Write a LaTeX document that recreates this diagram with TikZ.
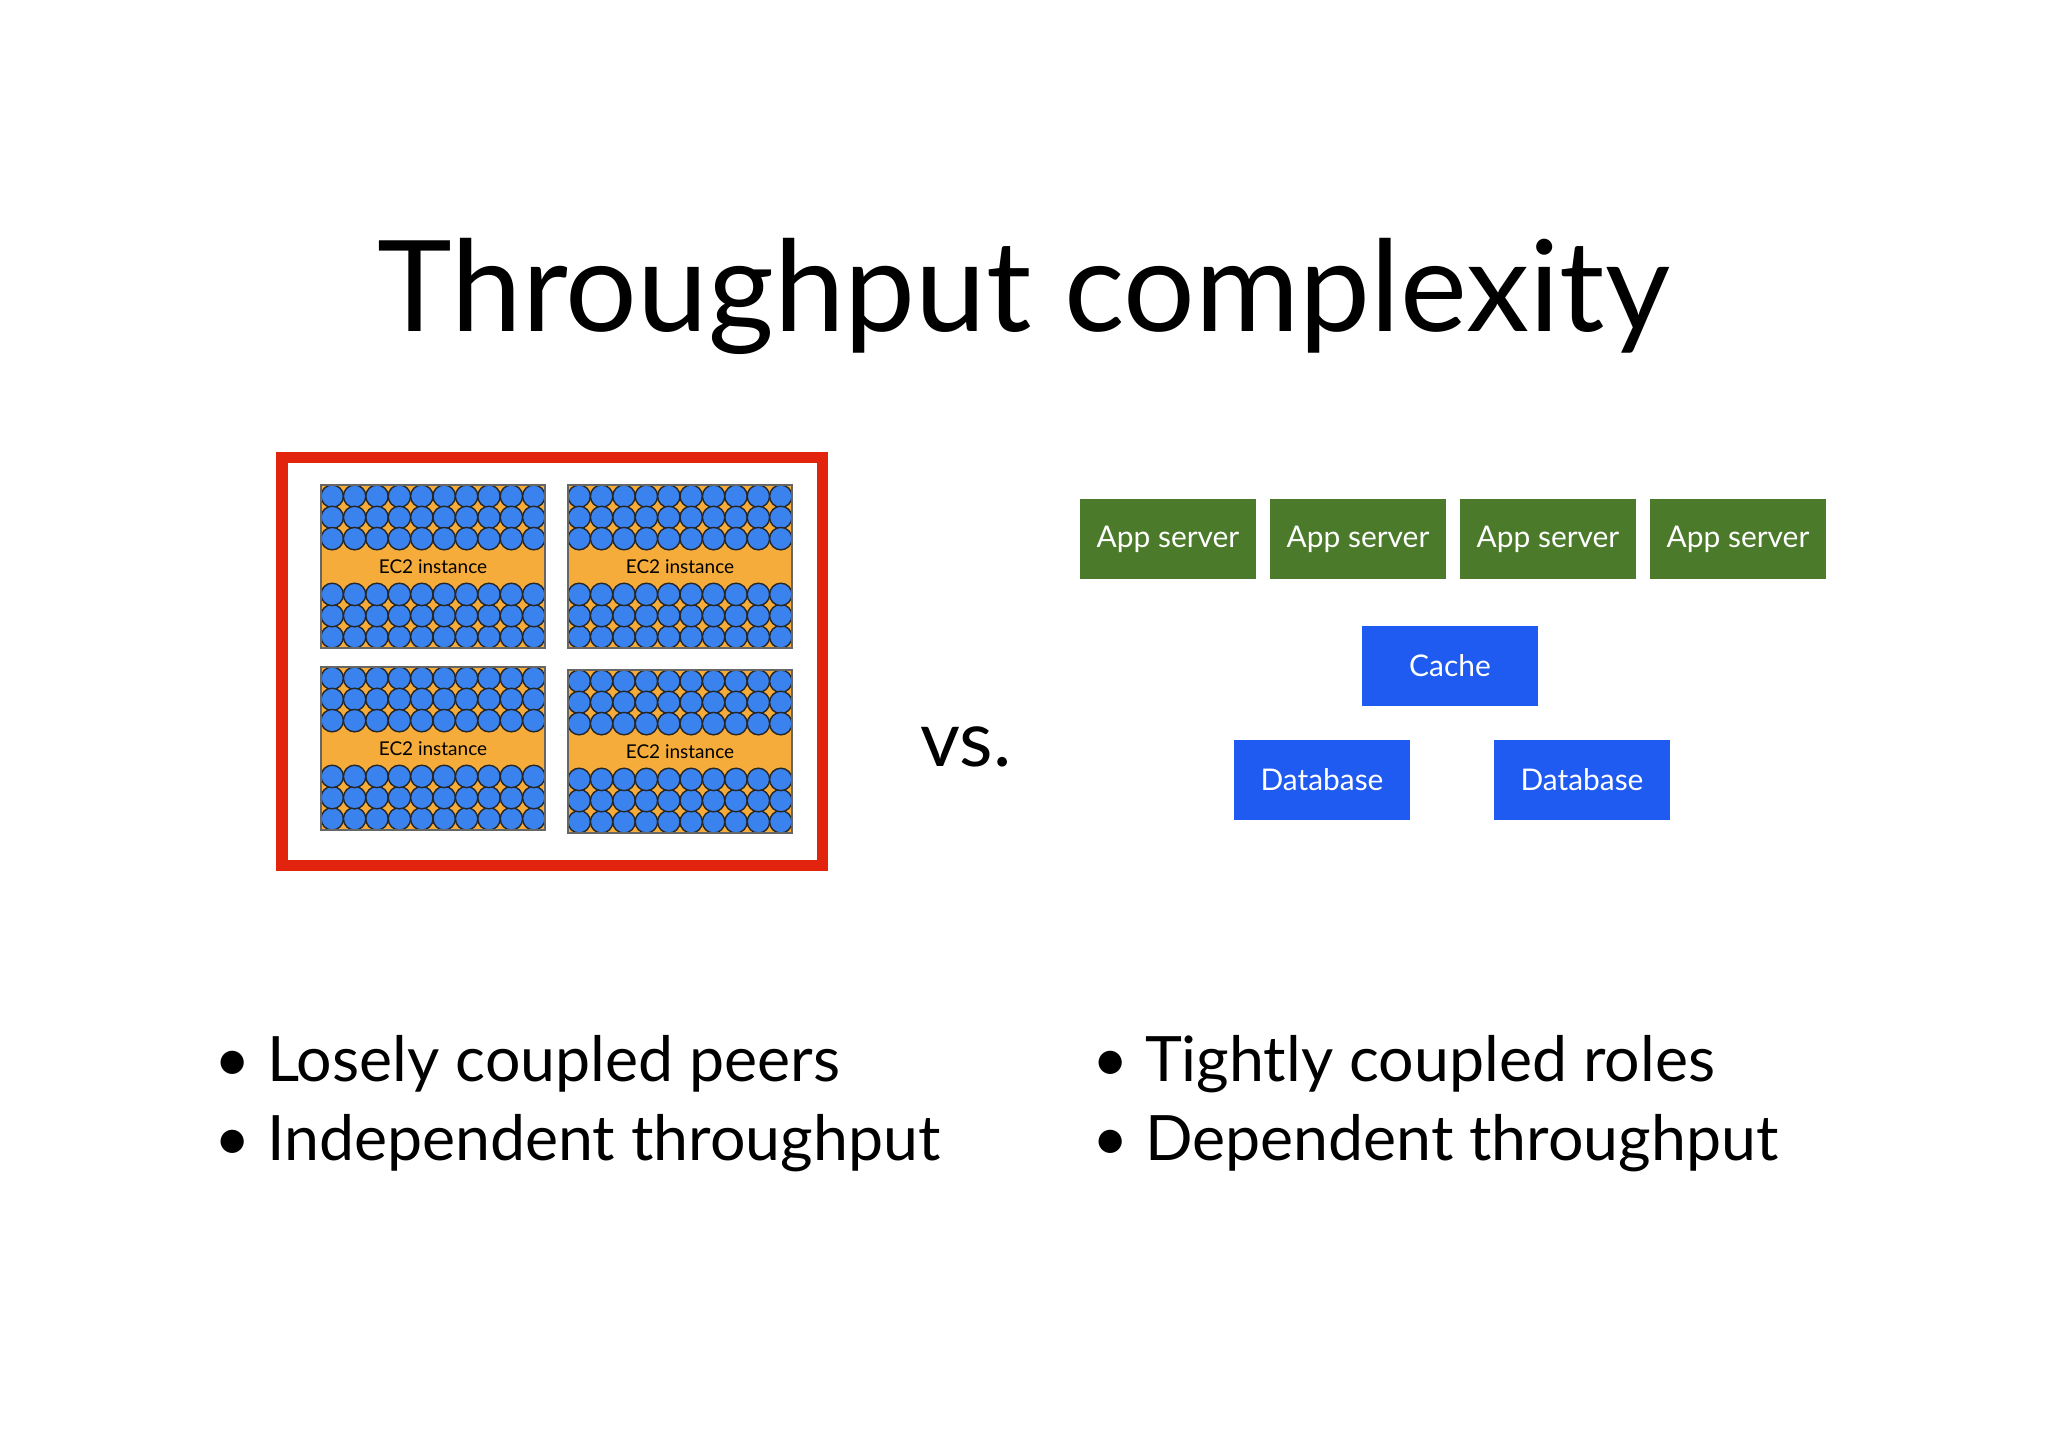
\documentclass[tikz,border=0pt]{standalone}
\usepackage{fontspec}
\setmainfont{Lato}
\definecolor{ec}{HTML}{F5AC3A}
\definecolor{cb}{HTML}{3A82EE}
\definecolor{gr}{HTML}{4B7A2B}
\definecolor{bl}{HTML}{1F5BF0}
\definecolor{rd}{HTML}{E2240F}
\begin{document}
\begin{tikzpicture}[x=0.01cm,y=-0.01cm,
  app/.style={fill=gr,text=white,minimum width=1.75cm,minimum height=0.8cm,inner sep=0,font=\fontsize{8.5}{10}\selectfont},
  db/.style={fill=bl,text=white,minimum width=1.76cm,minimum height=0.8cm,inner sep=0,font=\fontsize{8.5}{10}\selectfont},
  bul/.style={anchor=base west,font=\fontsize{17.8}{21}\selectfont,inner sep=0}]
\useasboundingbox (0,0) rectangle (2048,1447);
\node[font=\fontsize{36}{42}\selectfont] (title) at (1024,296) {Throughput complexity};
\draw[rd,line width=0.11cm] (282,457) rectangle (822,865);
\foreach \bx/\by [count=\k] in {321/485,568/485,321/667,568/670}{
  \fill[ec] (\bx,\by) rectangle ++(224,163);
  \foreach \r in {0,1,2}{\foreach \c in {0,...,9}{
    \filldraw[fill=cb,draw=black!85,line width=0.4pt] (\bx+11.2+\c*22.4,\by+11.2+\r*21.2) circle (0.112cm);
    \filldraw[fill=cb,draw=black!85,line width=0.4pt] (\bx+11.2+\c*22.4,\by+163-11.2-\r*21.2) circle (0.112cm);
  }}
  \draw[black!60,line width=0.4pt] (\bx,\by) rectangle ++(224,163);
  \node[font=\fontsize{5.4}{6}\selectfont,inner sep=0] (ec\k) at (\bx+112,\by+82) {EC2 instance};
}
\node[font=\fontsize{22}{26}\selectfont] (vs) at (966,747) {vs.};
\node[app] (a1) at (1168,539) {App server};
\node[app] (a2) at (1358,539) {App server};
\node[app] (a3) at (1548,539) {App server};
\node[app] (a4) at (1738,539) {App server};
\node[db] (cache) at (1450,666) {Cache};
\node[db] (d1) at (1322,780) {Database};
\node[db] (d2) at (1582,780) {Database};
\node[bul] (l1) at (214,1081) {• Losely coupled peers};
\node[bul] (l2) at (214,1160) {• Independent throughput};
\node[bul] (r1) at (1092,1081) {• Tightly coupled roles};
\node[bul] (r2) at (1092,1160) {• Dependent throughput};
\end{tikzpicture}
\end{document}
